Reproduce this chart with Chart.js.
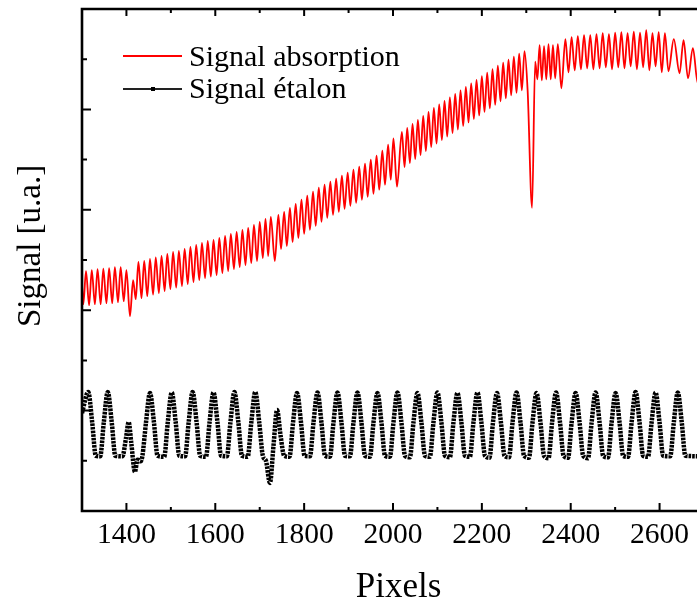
<!DOCTYPE html>
<html><head><meta charset="utf-8">
<script src="https://cdn.jsdelivr.net/npm/chart.js@4"></script>
<style>
html,body{margin:0;padding:0;background:#fff;overflow:hidden;}
#wrap{position:relative;width:697px;height:604px;overflow:hidden;background:#fff;}
canvas{position:absolute;left:0;top:0;}
.t{position:absolute;font-family:'Liberation Serif','Times New Roman',serif;color:#000;white-space:nowrap;}
.ln{position:absolute;}
</style></head><body>
<div id="wrap">
<canvas id="c" width="720" height="604"></canvas>
<div class="ln" style="left:123px;top:55px;width:59px;height:1.5px;background:#ff0000"></div>
<div class="ln" style="left:123px;top:88.3px;width:59px;height:1.5px;background:#222"></div>
<div class="ln" style="left:150.5px;top:87px;width:4px;height:4px;background:#000"></div>
<div class="t" id="lg0" style="left:189px;top:41px;font-size:30px;line-height:30px"></div>
<div class="t" id="lg1" style="left:189px;top:73.4px;font-size:30px;line-height:30px"></div>
<div class="t" id="xt" style="left:298.5px;width:200px;text-align:center;top:567.5px;font-size:35px;line-height:35px"></div>
<div class="t" id="yt" style="left:12.9px;top:327px;font-size:33px;line-height:33px;transform-origin:0 0;transform:rotate(-90deg)"></div>
</div>
<script>
const seriesNames = ['Signal absorption', 'Signal étalon'];
const xTitle = 'Pixels';
const yTitle = 'Signal [u.a.]';
const xTickValues = [1400, 1600, 1800, 2000, 2200, 2400, 2600];
const xMinorValues = [1500, 1700, 1900, 2100, 2300, 2500];
const yMajorValues = [2, 4, 6, 8];
const yMinorValues = [1, 3, 5, 7, 9];

const redX = [1300,1303,1309,1316,1322,1329,1335,1342,1348,1355,1361,1368,1374,1381,1387,1394,1400,1408,1415,1421,
1427,1434,1440,1447,1453,1460,1466,1473,1479,1486,1492,1499,1505,1512,1518,1525,1531,1538,1544,1551,
1557,1564,1570,1577,1583,1590,1596,1603,1609,1616,1622,1629,1635,1642,1648,1655,1661,1668,1674,1681,
1687,1694,1700,1707,1713,1719,1725,1734,1742,1748,1755,1761,1768,1774,1781,1787,1794,1800,1807,1813,
1820,1826,1833,1839,1846,1852,1859,1865,1872,1878,1885,1891,1898,1904,1911,1917,1924,1930,1937,1943,
1950,1956,1963,1969,1976,1982,1989,1995,2001,2009,2020,2026,2032,2038,2044,2050,2056,2062,2068,2074,
2080,2086,2092,2098,2104,2110,2116,2122,2128,2134,2140,2146,2152,2158,2164,2170,2176,2182,2188,2194,
2200,2206,2212,2218,2224,2230,2236,2242,2248,2254,2260,2266,2272,2278,2284,2290,2296,2303,2313,2320,
2325,2330,2335,2340,2345,2350,2355,2360,2365,2371,2379,2388,2395,2402,2409,2416,2423,2430,2437,2444,
2451,2458,2465,2472,2479,2486,2493,2500,2507,2514,2521,2528,2535,2542,2549,2556,2563,2570,2577,2584,
2591,2598,2605,2612,2620,2632,2645,2654,2664,2675,2686,2696];
const redY = [4.50,4.12,4.78,4.10,4.80,4.12,4.82,4.12,4.83,4.14,4.84,4.14,4.86,4.16,4.86,4.18,4.80,3.88,4.60,4.22,
4.96,4.24,4.98,4.28,5.02,4.31,5.05,4.34,5.08,4.38,5.12,4.42,5.16,4.45,5.18,4.48,5.22,4.52,5.26,4.56,
5.30,4.60,5.34,4.64,5.38,4.67,5.40,4.70,5.44,4.74,5.48,4.78,5.52,4.82,5.56,4.86,5.60,4.90,5.64,4.94,
5.70,4.98,5.76,5.04,5.82,5.08,5.86,4.98,5.90,5.22,5.96,5.28,6.04,5.36,6.12,5.44,6.20,5.52,6.28,5.60,
6.36,5.68,6.44,5.76,6.50,5.84,6.56,5.90,6.62,5.96,6.68,6.02,6.74,6.08,6.80,6.14,6.86,6.20,6.92,6.26,
7.00,6.32,7.08,6.40,7.18,6.50,7.30,6.60,7.42,6.46,7.55,6.85,7.63,6.93,7.71,7.01,7.79,7.09,7.87,7.17,
7.95,7.25,8.03,7.32,8.10,7.39,8.17,7.46,8.24,7.53,8.31,7.60,8.38,7.67,8.45,7.74,8.52,7.81,8.59,7.88,
8.66,7.95,8.73,8.02,8.80,8.09,8.87,8.16,8.93,8.22,8.99,8.28,9.05,8.33,9.11,8.38,9.16,8.38,6.04,8.95,
8.60,9.28,8.58,9.26,8.60,9.30,8.60,9.28,8.62,9.30,8.42,9.40,8.74,9.44,8.78,9.46,8.80,9.48,8.82,9.48,
8.80,9.50,8.82,9.52,8.84,9.50,8.80,9.53,8.84,9.54,8.82,9.52,8.86,9.55,8.80,9.53,8.84,9.58,8.78,9.52,
8.86,9.54,8.74,9.52,8.76,9.40,8.72,9.38,8.62,9.22,8.52,9.00];

const etalonX = [1300,1314,1323,1331,1341,1349,1358,1367,1375,1391,1399,1405,1411,1419,1425,1432,1436,1444,1453,1462,
1470,1485,1493,1502,1511,1519,1532,1540,1549,1558,1566,1579,1587,1596,1605,1613,1626,1634,1643,1652,
1660,1673,1681,1690,1699,1707,1714,1723,1731,1739,1747,1755,1767,1775,1784,1793,1801,1813,1821,1830,
1839,1847,1858,1866,1875,1884,1892,1903,1911,1920,1929,1937,1948,1956,1965,1974,1982,1993,2001,2010,
2019,2027,2038,2046,2055,2064,2072,2083,2091,2100,2109,2117,2128,2136,2145,2154,2162,2173,2181,2190,
2199,2207,2217,2225,2234,2243,2251,2261,2269,2278,2287,2295,2306,2314,2323,2332,2340,2350,2358,2367,
2376,2384,2394,2402,2411,2420,2428,2439,2447,2456,2465,2473,2484,2492,2501,2510,2518,2529,2537,2546,
2555,2563,2574,2582,2591,2600,2608,2624,2632,2641,2650,2658,2700];
const etalonY = [1.95,2.37,1.76,1.10,1.09,1.76,2.37,1.76,1.10,1.09,1.45,1.77,1.35,0.78,1.02,0.99,1.10,1.76,2.35,1.76,
1.10,1.08,1.76,2.36,1.76,1.10,1.09,1.76,2.37,1.76,1.10,1.08,1.76,2.36,1.76,1.10,1.09,1.76,2.37,1.76,
1.10,1.08,1.76,2.37,1.76,1.10,1.00,0.56,1.30,2.01,1.50,1.10,1.08,1.76,2.35,1.76,1.10,1.09,1.76,2.36,
1.76,1.10,1.08,1.76,2.36,1.76,1.10,1.09,1.76,2.36,1.76,1.10,1.08,1.76,2.35,1.76,1.10,1.08,1.76,2.36,
1.76,1.10,1.07,1.76,2.35,1.76,1.10,1.08,1.76,2.36,1.76,1.10,1.07,1.76,2.35,1.76,1.10,1.08,1.76,2.36,
1.76,1.10,1.06,1.76,2.35,1.76,1.10,1.07,1.76,2.36,1.76,1.10,1.06,1.76,2.35,1.76,1.10,1.05,1.76,2.36,
1.76,1.10,1.06,1.76,2.35,1.76,1.10,1.05,1.76,2.36,1.76,1.10,1.07,1.76,2.35,1.76,1.10,1.08,1.76,2.37,
1.76,1.10,1.08,1.76,2.36,1.76,1.10,1.09,1.76,2.36,1.76,1.10,1.09];

document.getElementById('lg0').textContent = seriesNames[0];
document.getElementById('lg1').textContent = seriesNames[1];
document.getElementById('xt').textContent = xTitle;
document.getElementById('yt').textContent = yTitle;

const toPts = (xs, ys) => xs.map((x, i) => ({x: x, y: ys[i]}));

const framePlugin = {
  id: 'frame',
  afterDatasetsDraw(chart) {
    const ctx = chart.ctx, a = chart.chartArea, sx = chart.scales.x, sy = chart.scales.y;
    ctx.save();
    ctx.strokeStyle = '#000';
    ctx.lineWidth = 2.6;
    ctx.lineCap = 'square';
    ctx.beginPath();
    ctx.moveTo(a.right, a.top); ctx.lineTo(a.left, a.top); ctx.lineTo(a.left, a.bottom); ctx.lineTo(a.right, a.bottom);
    ctx.stroke();
    ctx.lineWidth = 2;
    ctx.lineCap = 'butt';
    ctx.beginPath();
    xTickValues.forEach(v => { const p = sx.getPixelForValue(v);
      ctx.moveTo(p, a.bottom); ctx.lineTo(p, a.bottom - 8);
      ctx.moveTo(p, a.top); ctx.lineTo(p, a.top + 7); });
    xMinorValues.forEach(v => { const p = sx.getPixelForValue(v);
      ctx.moveTo(p, a.bottom); ctx.lineTo(p, a.bottom - 4);
      ctx.moveTo(p, a.top); ctx.lineTo(p, a.top + 4); });
    yMajorValues.forEach(v => { const p = sy.getPixelForValue(v);
      ctx.moveTo(a.left, p); ctx.lineTo(a.left + 9, p); });
    yMinorValues.forEach(v => { const p = sy.getPixelForValue(v);
      ctx.moveTo(a.left, p); ctx.lineTo(a.left + 5, p); });
    ctx.stroke();
    ctx.restore();
  }
};

new Chart(document.getElementById('c').getContext('2d'), {
  type: 'line',
  data: {
    datasets: [
      {label: seriesNames[0], data: toPts(redX, redY), borderColor: '#ff0000', borderWidth: 1.8,
       pointRadius: 0, cubicInterpolationMode: 'monotone', fill: false},
      {label: seriesNames[1], data: toPts(etalonX, etalonY), borderColor: '#000000', borderWidth: 4.5,
       borderDash: [2.6, 1], pointRadius: 0, cubicInterpolationMode: 'monotone', fill: false}
    ]
  },
  options: {
    responsive: false, animation: false, devicePixelRatio: 1,
    layout: {padding: {top: 9, right: 16, left: 0, bottom: 0}},
    plugins: {legend: {display: false}, tooltip: {enabled: false}, title: {display: false}},
    scales: {
      x: {type: 'linear', min: 1300, max: 2700,
          afterBuildTicks: s => { s.ticks = xTickValues.map(v => ({value: v})); },
          afterFit: s => { s.height = 93; },
          grid: {display: false, drawTicks: false}, border: {display: false},
          ticks: {padding: 7, color: '#000', maxRotation: 0, autoSkip: false,
                  font: {family: "'Liberation Serif', 'Times New Roman', serif", size: 29.5},
                  callback: v => String(v)}},
      y: {type: 'linear', min: 0, max: 10,
          afterFit: s => { s.width = 82; },
          ticks: {display: false}, grid: {display: false, drawTicks: false}, border: {display: false}}
    }
  },
  plugins: [framePlugin]
});
</script>
</body></html>
